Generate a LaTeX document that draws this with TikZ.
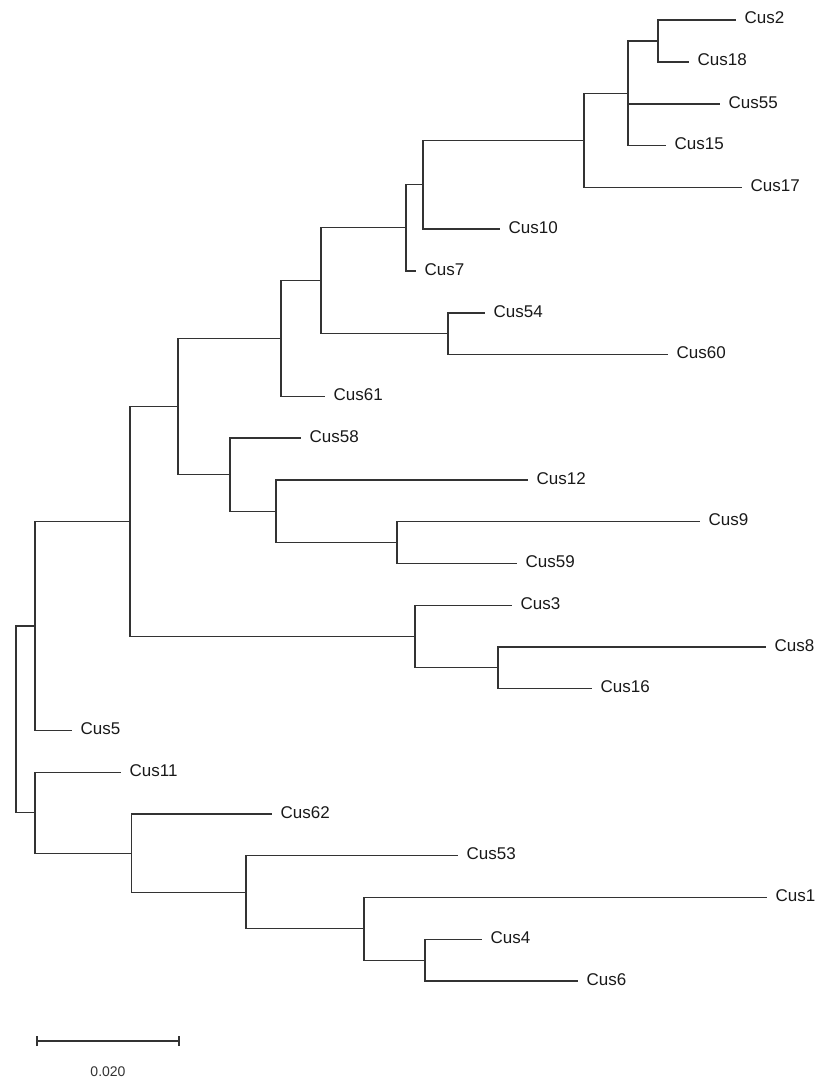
\documentclass[tikz,border=0pt]{standalone}
\usepackage{fontspec}
\setmainfont{Liberation Sans}
\begin{document}
\begin{tikzpicture}[x=1pt, y=-1pt, line width=1.2pt,
    every node/.style={font=\fontsize{17}{18}\selectfont, text=black!90},
    leaf/.style={anchor=west, inner xsep=8pt, inner ysep=0pt, text height=0.8em, text depth=0pt},
    branch/.style={draw=black!80}]

    \useasboundingbox (0,0) rectangle (819,1081);

    % Leaves
    \node (cus2)  [leaf] at (736,20)    {Cus2};
    \node (cus18) [leaf] at (689,62)    {Cus18};
    \node (cus55) [leaf] at (720,104)   {Cus55};
    \node (cus15) [leaf] at (666,145.5) {Cus15};
    \node (cus17) [leaf] at (742,187.5) {Cus17};
    \node (cus10) [leaf] at (500,229)   {Cus10};
    \node (cus7)  [leaf] at (416,271)   {Cus7};
    \node (cus54) [leaf] at (485,313)   {Cus54};
    \node (cus60) [leaf] at (668,354.5) {Cus60};
    \node (cus61) [leaf] at (325,396.5) {Cus61};
    \node (cus58) [leaf] at (301,438)   {Cus58};
    \node (cus12) [leaf] at (528,480)   {Cus12};
    \node (cus9)  [leaf] at (700,521.7) {Cus9};
    \node (cus59) [leaf] at (517,563.3) {Cus59};
    \node (cus3)  [leaf] at (512,605.3) {Cus3};
    \node (cus8)  [leaf] at (766,647)   {Cus8};
    \node (cus16) [leaf] at (592,688.5) {Cus16};
    \node (cus5)  [leaf] at (72,730.3)  {Cus5};
    \node (cus11) [leaf] at (121,772.3) {Cus11};
    \node (cus62) [leaf] at (272,814)   {Cus62};
    \node (cus53) [leaf] at (458,855.8) {Cus53};
    \node (cus1)  [leaf] at (767,897.5) {Cus1};
    \node (cus4)  [leaf] at (482,939.2) {Cus4};
    \node (cus6)  [leaf] at (578,981)   {Cus6};

    % Internal nodes (upper clade)
    \coordinate (a) at (658,41);
    \coordinate (b) at (628,93.2);
    \coordinate (c) at (584,140.3);
    \coordinate (d) at (423,184.6);
    \coordinate (e) at (406,227.8);
    \coordinate (f) at (448,333.7);
    \coordinate (g) at (321,280.8);
    \coordinate (h) at (281,338.6);
    \coordinate (i) at (397,542.5);
    \coordinate (j) at (276,511.2);
    \coordinate (k) at (230,474.6);
    \coordinate (l) at (178,406.6);
    \coordinate (m) at (498,667.7);
    \coordinate (n) at (415,636.5);
    \coordinate (o) at (130,521.6);
    \coordinate (p) at (35,626);

    % Internal nodes (lower clade)
    \coordinate (q) at (425,960.1);
    \coordinate (r) at (364,928.8);
    \coordinate (s) at (246,892.3);
    \coordinate (t) at (131.7,853.2);
    \coordinate (u) at (35,812.7);
    \coordinate (root) at (16,719.3);

    % Branches
    \draw[branch] (a) |- (cus2.west);
    \draw[branch] (a) |- (cus18.west);
    \draw[branch] (b) |- (a);
    \draw[branch] (b) |- (cus55.west);
    \draw[branch] (b) |- (cus15.west);
    \draw[branch] (c) |- (b);
    \draw[branch] (c) |- (cus17.west);
    \draw[branch] (d) |- (c);
    \draw[branch] (d) |- (cus10.west);
    \draw[branch] (e) |- (d);
    \draw[branch] (e) |- (cus7.west);
    \draw[branch] (f) |- (cus54.west);
    \draw[branch] (f) |- (cus60.west);
    \draw[branch] (g) |- (e);
    \draw[branch] (g) |- (f);
    \draw[branch] (h) |- (g);
    \draw[branch] (h) |- (cus61.west);
    \draw[branch] (i) |- (cus9.west);
    \draw[branch] (i) |- (cus59.west);
    \draw[branch] (j) |- (cus12.west);
    \draw[branch] (j) |- (i);
    \draw[branch] (k) |- (cus58.west);
    \draw[branch] (k) |- (j);
    \draw[branch] (l) |- (h);
    \draw[branch] (l) |- (k);
    \draw[branch] (m) |- (cus8.west);
    \draw[branch] (m) |- (cus16.west);
    \draw[branch] (n) |- (cus3.west);
    \draw[branch] (n) |- (m);
    \draw[branch] (o) |- (l);
    \draw[branch] (o) |- (n);
    \draw[branch] (p) |- (o);
    \draw[branch] (p) |- (cus5.west);

    \draw[branch] (q) |- (cus4.west);
    \draw[branch] (q) |- (cus6.west);
    \draw[branch] (r) |- (cus1.west);
    \draw[branch] (r) |- (q);
    \draw[branch] (s) |- (cus53.west);
    \draw[branch] (s) |- (r);
    \draw[branch] (t) |- (cus62.west);
    \draw[branch] (t) |- (s);
    \draw[branch] (u) |- (cus11.west);
    \draw[branch] (u) |- (t);
    \draw[branch] (root) |- (p);
    \draw[branch] (root) |- (u);

    % Scale bar
    \coordinate (sbl) at (37,1041);
    \coordinate (sbr) at (179,1041);
    \draw[branch] (sbl) -- (sbr);
    \draw[branch] ([yshift=-5]sbl) -- ([yshift=5]sbl);
    \draw[branch] ([yshift=-5]sbr) -- ([yshift=5]sbr);
    \node (sblabel) [font=\fontsize{14}{15}\selectfont, text=black!80] at (108,1072) {0.020};

\end{tikzpicture}
\end{document}
